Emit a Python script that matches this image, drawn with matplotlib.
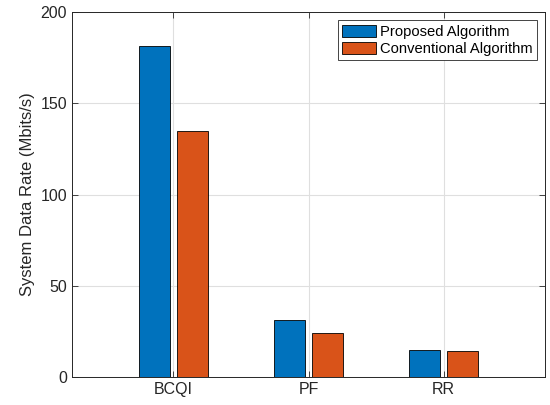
import numpy as np
import matplotlib.pyplot as plt

plt.rcParams['font.family'] = ['Liberation Sans', 'DejaVu Sans']

# Data
categories = ['BCQI', 'PF', 'RR']
proposed = [181.5, 31.5, 15.0]
conventional = [134.7, 24.0, 14.5]

x = np.arange(1, len(categories) + 1)
width = 0.23

fig = plt.figure(figsize=(5.5, 4.05), dpi=100)
ax = fig.add_axes([0.131, 0.069, 0.86, 0.901])

ax.bar(x - 0.14, proposed, width, color='#0072BD', edgecolor='black',
       linewidth=0.6, label='Proposed Algorithm', zorder=3)
ax.bar(x + 0.14, conventional, width, color='#D95319', edgecolor='black',
       linewidth=0.6, label='Conventional Algorithm', zorder=3)

ax.set_xlim(0.25, 3.75)
ax.set_ylim(0, 200)
ax.set_xticks(x)
ax.set_xticklabels(categories)
ax.set_yticks([0, 50, 100, 150, 200])
ax.set_ylabel('System Data Rate (Mbits/s)', fontsize=12, color='#262626')

ax.grid(True, color='#dfdfdf', linewidth=0.8, zorder=0)
ax.tick_params(direction='in', top=True, right=True, labelsize=11.5,
               colors='#262626', length=4, width=0.6)
for s in ax.spines.values():
    s.set_linewidth(0.7)
    s.set_color('#262626')

leg = ax.legend(loc='upper right', fontsize=10.6, fancybox=False,
                edgecolor='#262626', framealpha=1, handlelength=2.3,
                handleheight=0.9, handletextpad=0.25, borderpad=0.3,
                labelspacing=0.2, borderaxespad=0.55)
leg.get_frame().set_linewidth(0.6)

plt.savefig('out.png')
